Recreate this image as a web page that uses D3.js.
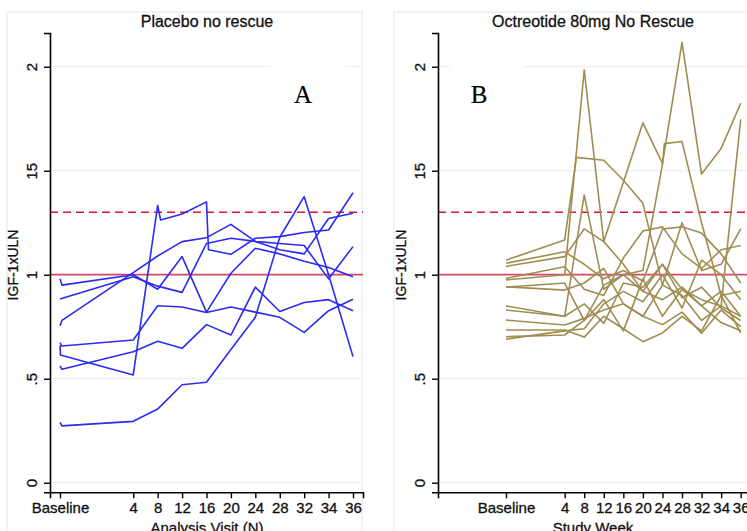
<!DOCTYPE html>
<html>
<head>
<meta charset="utf-8">
<script src="https://cdn.jsdelivr.net/npm/d3@7"></script>
<style>
  body { margin: 0; background: #fff; }
  svg { display: block; font-family: "Liberation Sans", Arial, sans-serif; }
  svg text { stroke: #111; stroke-width: 0.3px; }
</style>
</head>
<body>
<div id="chart"></div>
<script>
// visit positions on the x axis (Baseline sits 3 steps left of week 4)
const visitPos = [0, 3, 4, 5, 6, 7, 8, 9, 10, 11, 12]
const visitLabels = ["Baseline", "4", "8", "12", "16", "20", "24", "28", "32", "34", "36"]

const yTicks = [0, 0.5, 1, 1.5, 2]
const yTickLabels = ["0", ".5", "1", "15", "2"]

const uln = 1.0
const ulnHigh = 1.3

// Panel A - placebo, [visit position, IGF-1 x ULN]
const placeboA = [[0,0.98],[0.08,0.95],[3,1.00],[4,0.93],[5,1.087],[6,0.82],[7,1.007],[8,1.127],[9,1.10],[10,1.065],[11,1.035],[12,0.99]]
const placeboB = [[0,0.883],[3,0.99],[4,0.945],[5,0.915],[6,1.15],[7,1.175],[8,1.16],[9,1.15],[10,1.14],[11,0.98],[12,1.135]]
const placeboC = [[0,0.755],[0.08,0.78],[3,1.01],[4,1.09],[5,1.159],[6,1.178],[7,1.242],[8,1.16],[9,1.12],[10,1.10],[11,1.27],[12,1.295]]
const placeboD = [[0,0.673],[0.08,0.657],[3,0.686],[4,0.851],[5,0.845],[6,0.818],[7,0.845],[8,0.82],[9,0.795],[10,0.723],[11,0.827],[12,0.882]]
const placeboE = [[0,0.66],[0.02,0.614],[3,0.518],[4,1.333],[4.12,1.263],[5,1.292],[6,1.35],[6.08,1.12],[7,1.098],[8,1.175],[9,1.183],[10,1.203],[11,1.215],[12,1.394]]
const placeboF = [[0,0.561],[0.08,0.545],[3,0.63],[4,0.68],[5,0.646],[6,0.76],[7,0.71],[8,0.94],[9,0.823],[10,0.866],[11,0.88],[12,0.827]]
const placeboG = [[0,0.29],[0.08,0.273],[3,0.295],[4,0.354],[5,0.471],[6,0.483],[7,0.64],[8,0.795],[9,1.18],[10,1.375],[11,1.0],[12,0.606]]

// Panel B - octreotide 80mg
const octreo1 = [[0,1.07],[3,1.167],[3.6,1.564],[5,1.55],[6,1.454],[7,1.343],[8,0.95],[9,0.90],[10,0.78],[11,0.85],[12,0.80]]
const octreo2 = [[0,0.975],[3,1.0],[4,1.984],[5,1.159],[6,1.445],[7,1.73],[8,1.535],[9,2.117],[10,1.484],[11,1.607],[12,1.824]]
const octreo3 = [[0,0.94],[3,0.96],[4,0.78],[5,0.95],[6,1.0],[7,1.02],[8,1.53],[8.1,1.63],[9,1.64],[10,1.25],[11,0.9],[12,0.72]]
const octreo4 = [[0,0.85],[3,0.80],[4,1.383],[5,0.93],[6,1.0],[7,0.92],[8,1.05],[9,0.93],[10,0.88],[11,0.85],[12,1.747]]
const octreo5 = [[0,1.055],[3,1.11],[4,1.05],[5,0.98],[6,1.02],[7,0.97],[8,1.22],[9,1.23],[10,1.20],[11,1.10],[12,0.96]]
const octreo6 = [[0,1.04],[3,1.087],[4,1.22],[5,1.159],[6,1.05],[7,0.92],[8,0.88],[9,0.94],[10,0.85],[11,0.92],[12,0.80]]
const octreo7 = [[0,0.982],[3,1.038],[4,0.93],[5,0.90],[6,1.08],[7,1.21],[8,1.23],[9,1.10],[10,1.03],[11,1.12],[12,1.14]]
const octreo8 = [[0,0.942],[3,0.926],[4,0.96],[5,1.03],[6,0.86],[7,0.80],[8,0.95],[9,1.25],[10,1.02],[11,1.05],[12,1.22]]
const octreo9 = [[0,0.83],[3,0.80],[4,0.86],[5,0.766],[6,0.96],[7,0.94],[8,1.05],[9,0.89],[10,0.94],[11,0.84],[12,0.78]]
const octreo10 = [[0,0.782],[3,0.758],[4,0.79],[5,0.83],[6,0.86],[7,0.80],[8,0.76],[9,0.82],[10,0.718],[11,0.83],[12,0.75]]
const octreo11 = [[0,0.734],[3,0.734],[4,0.70],[5,0.80],[6,0.74],[7,0.678],[8,0.72],[9,0.80],[10,0.73],[11,0.90],[12,0.92]]
const octreo12 = [[0,0.702],[3,0.71],[4,0.78],[5,0.88],[6,0.73],[7,0.98],[8,0.80],[9,0.93],[10,0.85],[11,0.77],[12,0.73]]
const octreo13 = [[0,0.69],[3,0.73],[4,0.74],[5,0.86],[6,0.92],[7,0.87],[8,1.00],[9,0.84],[10,1.07],[11,1.00],[12,0.88]]

const width = 747
const height = 531

const svg = d3.select("#chart").append("svg")
  .attr("width", width)
  .attr("height", height)

// y scale shared by both panels
const y = d3.scaleLinear()
  .domain([-0.0462, 2.162])
  .range([492.3, 33])

function drawPanel(cfg) {
  const g = svg.append("g")

  // light outer frame
  g.append("rect")
    .attr("x", cfg.frameX)
    .attr("y", 12)
    .attr("width", cfg.frameW)
    .attr("height", 540)
    .attr("fill", "none")
    .attr("stroke", "#e3ecf0")
    .attr("stroke-width", 1.2)

  const x = d3.scaleLinear()
    .domain([0, 12])
    .range([cfg.x0, cfg.x12])

  // gridlines
  g.append("g").selectAll("line")
    .data(yTicks)
    .enter().append("line")
    .attr("x1", cfg.axisX)
    .attr("x2", cfg.right)
    .attr("y1", d => y(d))
    .attr("y2", d => y(d))
    .attr("stroke", "#e9f1f1")
    .attr("stroke-width", 1.3)

  // white box behind the panel letter
  g.append("rect")
    .attr("x", cfg.boxX)
    .attr("y", 58)
    .attr("width", cfg.boxW)
    .attr("height", 40)
    .attr("fill", "#fff")

  g.append("text")
    .attr("x", cfg.letterX)
    .attr("y", 103)
    .attr("text-anchor", "middle")
    .style("font-family", "'Liberation Serif', 'Times New Roman', serif")
    .style("font-size", "25px")
    .style("stroke-width", "0.2px")
    .text(cfg.letter)

  // reference lines
  g.append("line")
    .attr("x1", cfg.axisX).attr("x2", cfg.right)
    .attr("y1", y(uln)).attr("y2", y(uln))
    .attr("stroke", "#d24a66")
    .attr("stroke-width", 1.8)

  g.append("line")
    .attr("x1", cfg.axisX).attr("x2", cfg.right)
    .attr("y1", y(ulnHigh)).attr("y2", y(ulnHigh))
    .attr("stroke", "#d8173f")
    .attr("stroke-width", 1.4)
    .attr("stroke-dasharray", "8,5")

  const line = d3.line()
    .x(d => x(d[0]))
    .y(d => y(d[1]))

  g.append("g").selectAll("path")
    .data(cfg.series)
    .enter().append("path")
    .attr("d", line)
    .attr("fill", "none")
    .attr("stroke", cfg.color)
    .attr("stroke-width", 1.6)
    .attr("stroke-linejoin", "round")

  // axes
  const xAxisScale = d3.scaleLinear()
    .domain([x.invert(cfg.axisX), x.invert(cfg.right)])
    .range([cfg.axisX, cfg.right])

  const xAxis = g.append("g")
    .attr("transform", "translate(0,492.3)")
    .call(d3.axisBottom(xAxisScale)
      .tickValues(visitPos)
      .tickFormat((d, i) => visitLabels[i])
      .tickSizeOuter(0)
      .tickSize(6)
      .tickPadding(4))
  xAxis.select(".domain").attr("stroke-width", 1.6)
  xAxis.selectAll(".tick line").attr("stroke-width", 1.4)
  xAxis.selectAll("text")
    .style("font-size", "15px")
    .style("fill", "#111")

  const yAxis = g.append("g")
    .attr("transform", "translate(" + cfg.axisX + ",0)")
    .call(d3.axisLeft(y)
      .tickValues(yTicks)
      .tickFormat((d, i) => yTickLabels[i])
      .tickSizeOuter(0)
      .tickSize(6))
  yAxis.select(".domain").attr("stroke-width", 1.6)
  yAxis.selectAll(".tick line").attr("stroke-width", 1.4)
  yAxis.selectAll("text")
    .attr("x", 0)
    .attr("dy", null)
    .attr("transform", "translate(-13,0) rotate(-90)")
    .attr("text-anchor", "middle")
    .style("font-size", "15px")
    .style("fill", "#111")

  // titles
  g.append("text")
    .attr("x", cfg.titleX)
    .attr("y", 27)
    .attr("text-anchor", "middle")
    .style("font-size", "16px")
    .style("fill", "#111")
    .text(cfg.title)

  g.append("text")
    .attr("x", cfg.xTitleX)
    .attr("y", 533)
    .attr("text-anchor", "middle")
    .style("font-size", "15px")
    .style("fill", "#111")
    .text(cfg.xTitle)

  g.append("text")
    .attr("transform", "translate(" + (cfg.axisX - 32) + "," + 265 + ") rotate(-90)")
    .attr("text-anchor", "middle")
    .style("font-size", "14px")
    .style("fill", "#111")
    .text("IGF-1xULN")
}

drawPanel({
  frameX: 7, frameW: 355,
  axisX: 50, right: 363,
  x0: 60, x12: 353,
  boxX: 271, boxW: 74, letter: "A", letterX: 303,
  title: "Placebo no rescue", titleX: 207,
  xTitle: "Analysis Visit (N)", xTitleX: 207,
  color: "#2b2bf5",
  series: [placeboA, placeboB, placeboC, placeboD, placeboE, placeboF, placeboG]
})

drawPanel({
  frameX: 394, frameW: 380,
  axisX: 438, right: 751,
  x0: 506, x12: 740.7,
  boxX: 450, boxW: 73, letter: "B", letterX: 479,
  title: "Octreotide 80mg No Rescue", titleX: 593,
  xTitle: "Study Week", xTitleX: 593,
  color: "#a08d52",
  series: [octreo1, octreo2, octreo3, octreo4, octreo5, octreo6, octreo7, octreo8, octreo9, octreo10, octreo11, octreo12, octreo13]
})
</script>
</body>
</html>
